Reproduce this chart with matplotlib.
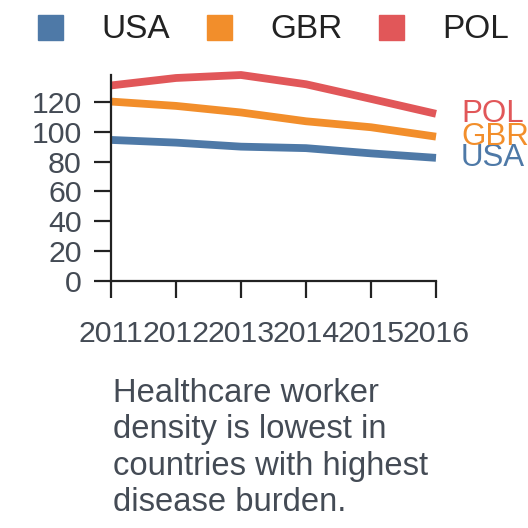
import matplotlib
matplotlib.use('Agg')
import matplotlib.pyplot as plt
from matplotlib.lines import Line2D

plt.rcParams['font.family'] = ['Liberation Sans', 'DejaVu Sans']

years = [2011, 2012, 2013, 2014, 2015, 2016]
countries = ['USA', 'GBR', 'POL']
usa = [94.5, 92.7, 90.0, 89.0, 85.5, 82.5]
gbr = [120.2, 117.3, 112.9, 107.0, 103.0, 96.7]
pol = [131.0, 136.0, 138.0, 131.8, 122.0, 112.0]
colors = ['#4e79a7', '#f28e2b', '#e15759']
y_ticks = [0, 20, 40, 60, 80, 100, 120]
caption = 'Healthcare worker\ndensity is lowest in\ncountries with highest\ndisease burden.'

text_col = '#444b55'
axis_col = '#222222'


def main():
    fig = plt.figure(figsize=(5.28, 5.28), dpi=100)
    W = H = 528.0
    ax = fig.add_axes([111 / W, 1 - 281 / H, (436 - 111) / W, (281 - 75) / H])

    series = [usa, gbr, pol]
    for name, vals, c in zip(countries, series, colors):
        ax.plot(years, vals, color=c, lw=5.6, solid_capstyle='butt',
                solid_joinstyle='round', clip_on=False)
        ax.annotate(name, (years[-1], vals[-1]), xytext=(18, 0),
                    textcoords='offset points', va='center', ha='left',
                    color=c, fontsize=22.5, annotation_clip=False)

    ax.set_xlim(years[0], years[-1])
    ax.set_ylim(0, 138)
    ax.set_xticks(years)
    ax.set_xticklabels([str(y) for y in years])
    ax.set_yticks(y_ticks)

    for s in ['top', 'right']:
        ax.spines[s].set_visible(False)
    for s in ['left', 'bottom']:
        ax.spines[s].set_color(axis_col)
        ax.spines[s].set_linewidth(1.6)
    ax.tick_params(axis='both', length=12, width=1.6, color=axis_col,
                   labelcolor=text_col, labelsize=21.8)
    ax.tick_params(axis='x', pad=16)
    ax.tick_params(axis='y', pad=9)

    handles = [Line2D([], [], ls='none', marker='s', markersize=18,
                      markerfacecolor=c, markeredgecolor=c) for c in colors]
    fig.legend(handles, countries, loc='center left', ncol=3,
               bbox_to_anchor=(33.5 / W, 1 - 30 / H), frameon=False,
               borderpad=0, borderaxespad=0, handlelength=1.0,
               handletextpad=1.05, columnspacing=0.95, fontsize=24,
               labelcolor='#222222')

    fig.text(113 / W, 1 - 378 / H, caption, va='top', ha='left',
             fontsize=23.6, color=text_col, linespacing=1.22)

    fig.savefig('out.png', dpi=100)


if __name__ == '__main__':
    main()
